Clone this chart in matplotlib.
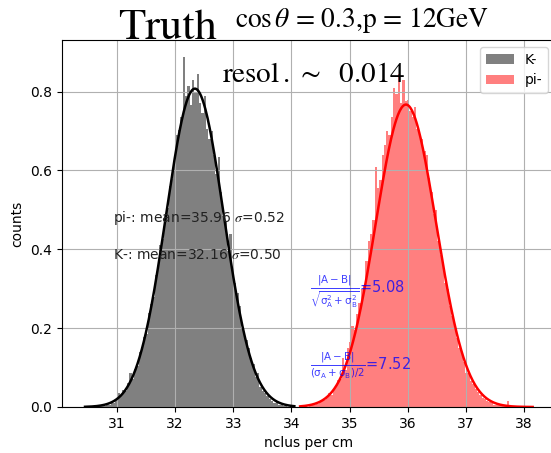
import numpy as np
import matplotlib
matplotlib.use('Agg')
import matplotlib.pyplot as plt

plt.rcParams['mathtext.fontset'] = 'stix'

# histogram bins (density), bin width 0.04
bin_w = 0.04
k_start = 30.45
pi_start = 34.15

k_counts = [0, 0.002, 0, 0, 0.003, 0, 0.003, 0.005, 0.003, 0.008,
            0.006, 0.012, 0.010, 0.018, 0.035, 0.030, 0.042, 0.040, 0.062, 0.085,
            0.071, 0.096, 0.103, 0.140, 0.152, 0.178, 0.185, 0.238, 0.262, 0.280,
            0.335, 0.348, 0.410, 0.425, 0.487, 0.505, 0.560, 0.578, 0.620, 0.690,
            0.702, 0.735, 0.887, 0.790, 0.815, 0.765, 0.830, 0.800, 0.845, 0.770,
            0.745, 0.790, 0.705, 0.680, 0.700, 0.640, 0.590, 0.635, 0.545, 0.485,
            0.470, 0.395, 0.440, 0.345, 0.315, 0.290, 0.255, 0.200, 0.190, 0.170,
            0.150, 0.125, 0.110, 0.075, 0.085, 0.052, 0.040, 0.035, 0.028, 0.020,
            0.015, 0.010, 0.012, 0.006, 0.005, 0.003, 0.004, 0, 0.002, 0]

pi_counts = [0, 0, 0.002, 0, 0.003, 0.004, 0.006, 0.008, 0.012, 0.015,
             0.018, 0.022, 0.035, 0.030, 0.045, 0.050, 0.068, 0.072, 0.125, 0.095,
             0.150, 0.165, 0.205, 0.195, 0.235, 0.265, 0.300, 0.310, 0.370, 0.420,
             0.440, 0.475, 0.610, 0.555, 0.575, 0.640, 0.665, 0.700, 0.690, 0.735,
             0.810, 0.795, 0.845, 0.770, 0.830, 0.775, 0.780, 0.750, 0.735, 0.760,
             0.705, 0.690, 0.680, 0.650, 0.640, 0.580, 0.545, 0.490, 0.500, 0.420,
             0.385, 0.360, 0.315, 0.300, 0.255, 0.230, 0.200, 0.175, 0.150, 0.135,
             0.115, 0.085, 0.090, 0.065, 0.058, 0.045, 0.038, 0.030, 0.024, 0.020,
             0.014, 0.012, 0.009, 0.006, 0.005, 0.004, 0.003, 0.003, 0.002, 0.015,
             0.002, 0, 0.001, 0, 0, 0.001, 0, 0, 0, 0.001]

# gaussian fit parameters (curves)
k_mu, k_sig = 32.34, 0.494
pi_mu, pi_sig = 35.97, 0.52

def gaus(x, mu, sig):
    return np.exp(-(x - mu)**2 / (2 * sig**2)) / (sig * np.sqrt(2 * np.pi))

k_edges = k_start + bin_w * np.arange(len(k_counts) + 1)
pi_edges = pi_start + bin_w * np.arange(len(pi_counts) + 1)

fig = plt.figure(figsize=(5.51, 4.53), dpi=100)
ax = fig.add_axes([62/551, 46/453, 493/551, 367/453])

ax.hist(k_edges[:-1], bins=k_edges, weights=k_counts, color='gray', label='K-')
ax.hist(pi_edges[:-1], bins=pi_edges, weights=pi_counts, color='red', alpha=0.5, label='pi-')

xk = np.linspace(k_edges[0], k_edges[-1], 300)
xp = np.linspace(pi_edges[0], pi_edges[-1], 300)
ax.plot(xk, gaus(xk, k_mu, k_sig), color='black', lw=1.8)
ax.plot(xp, gaus(xp, pi_mu, pi_sig), color='red', lw=1.8)

ax.text(30.93, 0.47, r'pi-: mean=35.96 $\sigma$=0.52', fontsize=10, family='DejaVu Sans', color='#222222')
ax.text(30.93, 0.375, r'K-: mean=32.16 $\sigma$=0.50', fontsize=10, family='DejaVu Sans', color='#222222')
ax.text(34.32, 0.29, r'$\mathsf{\frac{|A-B|}{\sqrt{\sigma_A^2+\sigma_B^2}}}$=5.08',
        color='blue', alpha=0.75, fontsize=10.5, va='center', math_fontfamily='dejavusans')
ax.text(34.32, 0.107, r'$\mathsf{\frac{|A-B|}{(\sigma_A+\sigma_B)/2}}$=7.52',
        color='blue', alpha=0.75, fontsize=10.5, va='center', math_fontfamily='dejavusans')

ax.set_xlim(30.054, 38.534)
ax.set_ylim(0, 0.931)
ax.grid(True)
ax.set_xlabel('nclus per cm')
ax.set_ylabel('counts')
ax.legend(loc='upper right')

fig.text(118/551, 1 - 39/453, 'Truth', family='STIXGeneral', fontsize=32)
fig.text(235/551, 1 - 27/453, r'$\cos\theta$ = 0.3,p = 12GeV', family='STIXGeneral', fontsize=19.8)
fig.text(222/551, 1 - 82/453, r'resol$\,$.$\ \sim\ \ $0.014', family='STIXGeneral', fontsize=21)

fig.savefig('out.png', dpi=100)
